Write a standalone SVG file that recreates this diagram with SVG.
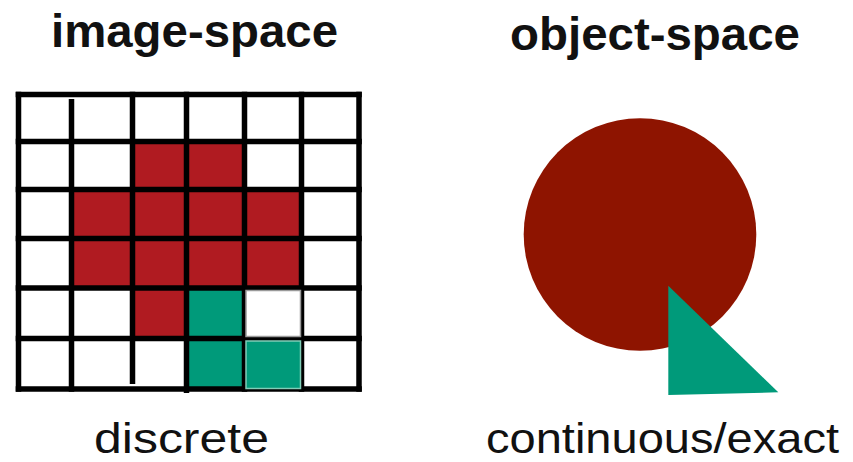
<svg xmlns="http://www.w3.org/2000/svg" width="853" height="462" viewBox="0 0 853 462">
<style>
.title{font-family:"Liberation Sans",Arial,Helvetica,sans-serif;font-weight:bold;font-size:46px;fill:#111}
.cap{font-family:"Liberation Sans",Arial,Helvetica,sans-serif;font-size:43px;fill:#111}
.red{fill:#b01b21}
.grn{fill:#009a7a}
.grid line{stroke:#000;stroke-width:5.5}
</style>
<rect width="853" height="462" fill="#fff"/>
<g id="image-space">
<text class="title" x="51" y="47" textLength="287" lengthAdjust="spacingAndGlyphs">image-space</text>
<g id="cells">
<rect class="red" x="132.5" y="141.5" width="112" height="48"/>
<rect class="red" x="71.5" y="189.5" width="230" height="98.5"/>
<rect class="red" x="132.5" y="288" width="54" height="50.5"/>
<rect class="grn" x="186.5" y="288" width="58" height="101"/>
</g>
<g class="grid">
<line x1="18.5" y1="91.7" x2="18.5" y2="391.8"/>
<line x1="71.5" y1="99" x2="71.5" y2="391.8"/>
<line x1="132.5" y1="91.7" x2="132.5" y2="384"/>
<line x1="186.5" y1="91.7" x2="186.5" y2="393"/>
<line x1="244.5" y1="91.7" x2="244.5" y2="391.8"/>
<line x1="301.5" y1="91.7" x2="301.5" y2="391.8"/>
<line x1="359" y1="91.7" x2="359" y2="391.8"/>
<line x1="15.7" y1="94.5" x2="361.8" y2="94.5"/>
<line x1="15.7" y1="141.5" x2="361.8" y2="141.5"/>
<line x1="15.7" y1="189.5" x2="361.8" y2="189.5"/>
<line x1="15.7" y1="238.5" x2="361.8" y2="238.5"/>
<line x1="15.7" y1="288" x2="361.8" y2="288"/>
<line x1="15.7" y1="338.5" x2="361.8" y2="338.5"/>
<line x1="15.7" y1="389" x2="361.8" y2="389"/>
</g>
<rect x="246" y="290.5" width="54.5" height="46" fill="#fff" stroke="#9a9a9a" stroke-width="1.5"/>
<rect class="grn" x="246" y="341" width="54.5" height="47.5" stroke="#80cdb8" stroke-width="1.5"/>
<text class="cap" x="94" y="453" textLength="175" lengthAdjust="spacingAndGlyphs">discrete</text>
</g>
<g id="object-space">
<text class="title" x="510" y="50" textLength="290" lengthAdjust="spacingAndGlyphs">object-space</text>
<circle cx="640" cy="234.5" r="116.3" fill="#8e1400"/>
<polygon points="668.3,285.7 668.3,395 778.3,392.3" class="grn"/>
<text class="cap" x="486" y="453" textLength="353" lengthAdjust="spacingAndGlyphs">continuous/exact</text>
</g>
</svg>
